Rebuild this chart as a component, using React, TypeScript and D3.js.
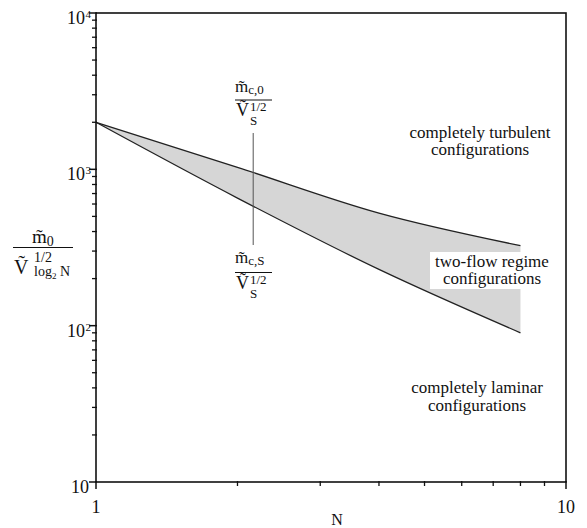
import * as d3 from "d3";

const W = 587;
const H = 528;
const M = { left: 96, right: 566, top: 13, bottom: 482 };

// N values (number of levels) and the two boundary curves
const nValues = [1, 2, 4, 8];
const upperBound = [2000, 1030, 525, 325]; // m_c,0 / V_S^1/2
const lowerBound = [2000, 655, 229, 90]; // m_c,S / V_S^1/2

const yMajor = [10, 100, 1000, 10000];
const yLabels = ["10", "10", "10", "10"];
const yExp = ["", "2", "3", "4"];
const xMajor = [1, 10];
const xLabels = ["1", "10"];

const annotN = 2.16;

const TXT = { fontFamily: '"Liberation Serif", "Times New Roman", serif' };
const tilde = "\u0303";

export default function App() {
  const x = d3.scaleLog().domain([1, 10]).range([M.left, M.right]);
  const y = d3.scaleLog().domain([10, 10000]).range([M.bottom, M.top]);

  const rows = nValues.map((n, i) => ({ n, hi: upperBound[i], lo: lowerBound[i] }));
  const band = d3
    .area<(typeof rows)[number]>()
    .x((d) => x(d.n))
    .y0((d) => y(d.lo))
    .y1((d) => y(d.hi))
    .curve(d3.curveMonotoneX)(rows);
  const hiLine = d3.line<(typeof rows)[number]>().x((d) => x(d.n)).y((d) => y(d.hi)).curve(d3.curveMonotoneX)(rows);
  const loLine = d3.line<(typeof rows)[number]>().x((d) => x(d.n)).y((d) => y(d.lo)).curve(d3.curveMonotoneX)(rows);

  const yMinor: number[] = [];
  [10, 100, 1000].forEach((dec) => {
    for (let k = 2; k <= 9; k++) yMinor.push(dec * k);
  });
  const xMinor = d3.range(2, 10);

  const ax = x(annotN);

  return (
    <svg width={W} height={H} style={{ position: "absolute", left: 0, top: 0, background: "#fff" }}>
      <path d={band ?? ""} fill="#d6d6d6" />
      <path d={hiLine ?? ""} fill="none" stroke="#222" strokeWidth={1.3} />
      <path d={loLine ?? ""} fill="none" stroke="#222" strokeWidth={1.3} />

      {/* frame */}
      <rect x={M.left} y={M.top} width={M.right - M.left} height={M.bottom - M.top} fill="none" stroke="#111" strokeWidth={1.6} />

      {/* y ticks */}
      {yMinor.map((v) => (
        <line key={"ym" + v} x1={M.left - 4} x2={M.left + 1} y1={y(v)} y2={y(v)} stroke="#111" strokeWidth={1.3} />
      ))}
      {yMajor.map((v, i) => (
        <g key={"yM" + v}>
          <line x1={M.left - 7} x2={M.left + 1} y1={y(v)} y2={y(v)} stroke="#111" strokeWidth={1.5} />
          <text x={yExp[i] ? 85 : 89} y={y(v) + 11} textAnchor="end" fontSize={18} fill="#111" style={TXT}>
            {yLabels[i]}
          </text>
          {yExp[i] ? (
            <text x={85.5} y={y(v) + 5} fontSize={11} fill="#111" style={TXT}>
              {yExp[i]}
            </text>
          ) : null}
        </g>
      ))}

      {/* x ticks */}
      {xMinor.map((v) => (
        <line key={"xm" + v} x1={x(v)} x2={x(v)} y1={M.bottom - 1} y2={M.bottom + 4} stroke="#111" strokeWidth={1.3} />
      ))}
      {xMajor.map((v, i) => (
        <g key={"xM" + v}>
          <line x1={x(v)} x2={x(v)} y1={M.bottom - 1} y2={M.bottom + 7} stroke="#111" strokeWidth={1.5} />
          <text x={x(v)} y={513} textAnchor="middle" fontSize={18} fill="#111" style={TXT}>
            {xLabels[i]}
          </text>
        </g>
      ))}
      <text x={337} y={525} textAnchor="middle" fontSize={16} fill="#111" style={TXT}>
        N
      </text>

      {/* y axis label */}
      <g fill="#111">
        <text x={32} y={243} fontSize={19} style={TXT}>
          {"m" + tilde}
          <tspan fontSize={14} dy={3}>0</tspan>
        </text>
        <line x1={13} x2={73} y1={247.5} y2={247.5} stroke="#111" strokeWidth={1.2} />
        <text x={14} y={274} fontSize={20} style={TXT}>{"\u1E7C"}</text>
        <text x={34} y={262} fontSize={14} style={TXT}>1/2</text>
        <text x={34} y={276} fontSize={14} style={TXT}>
          log<tspan fontSize={9} dy={3}>2</tspan>
          <tspan dy={-3}> N</tspan>
        </text>
      </g>

      {/* annotation line */}
      <line x1={ax} x2={ax} y1={133} y2={245} stroke="#555" strokeWidth={1} />

      {/* upper annotation */}
      <g fill="#111">
        <text x={235} y={92} fontSize={17} style={TXT}>
          {"m" + tilde}
          <tspan fontSize={13} dy={2}>c,0</tspan>
        </text>
        <line x1={235} x2={272} y1={100} y2={100} stroke="#111" strokeWidth={1} />
        <text x={236} y={116} fontSize={18} style={TXT}>{"\u1E7C"}</text>
        <text x={250} y={111} fontSize={13} style={TXT}>1/2</text>
        <text x={250} y={125} fontSize={13} style={TXT}>S</text>
      </g>

      {/* lower annotation */}
      <g fill="#111">
        <text x={235} y={263} fontSize={17} style={TXT}>
          {"m" + tilde}
          <tspan fontSize={13} dy={2}>c,S</tspan>
        </text>
        <line x1={235} x2={272} y1={272.5} y2={272.5} stroke="#111" strokeWidth={1} />
        <text x={236} y={289} fontSize={18} style={TXT}>{"\u1E7C"}</text>
        <text x={250} y={284} fontSize={13} style={TXT}>1/2</text>
        <text x={250} y={298} fontSize={13} style={TXT}>S</text>
      </g>

      {/* region labels */}
      <g fontSize={17} fill="#111" textAnchor="middle">
        <text x={480} y={138} style={TXT}>completely turbulent</text>
        <text x={480} y={155} style={TXT}>configurations</text>
        <rect x={430} y={252} width={127} height={37} fill="#fff" />
        <text x={492} y={267} style={TXT}>two-flow regime</text>
        <text x={492} y={284} style={TXT}>configurations</text>
        <text x={477} y={393} style={TXT}>completely laminar</text>
        <text x={477} y={411} style={TXT}>configurations</text>
      </g>
    </svg>
  );
}
